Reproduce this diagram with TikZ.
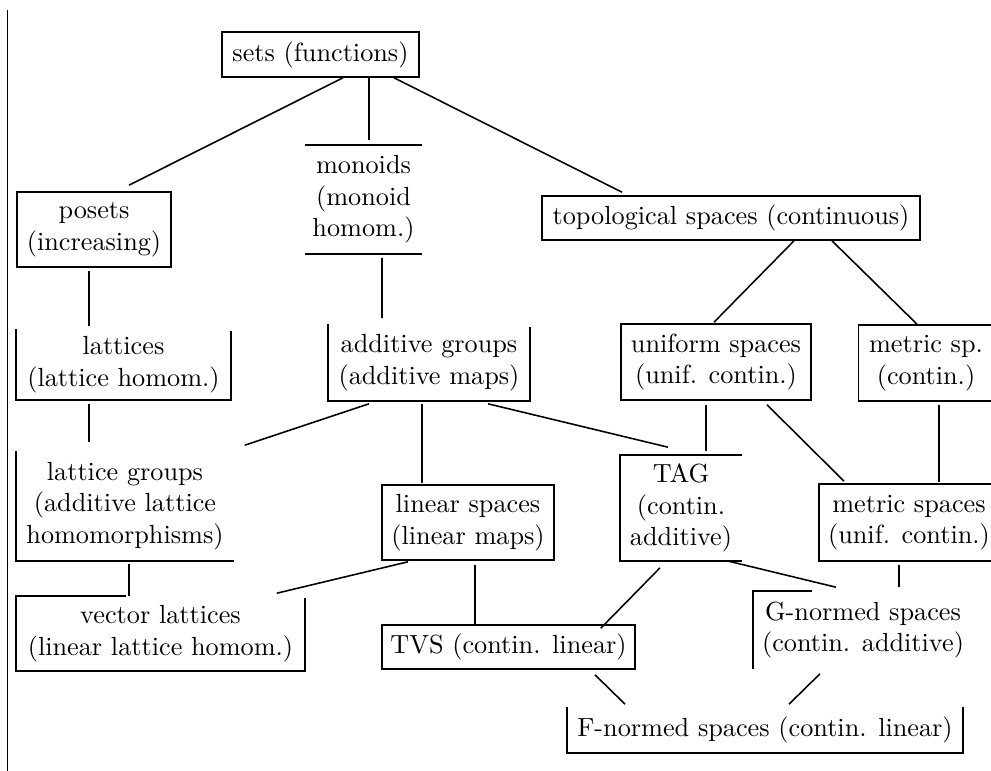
\documentclass[tikz,border=0pt]{standalone}
\usetikzlibrary{calc}

\begin{document}
\begin{tikzpicture}[x=0.0134cm, y=-0.0134cm, line width=0.6pt,
    lbl/.style={inner sep=0pt, align=center},
    box/.style={lbl, draw}]
  \useasboundingbox (0,0) rectangle (991,771);

  % Margin rule
  \draw (7.5,10) -- (7.5,771);

  % Top row
  \node[box, minimum width=2.640cm, minimum height=0.603cm] (sets) at (320.5,54.5) {sets (functions)};
  \node[lbl, minimum width=1.541cm, minimum height=1.434cm] (mon) at (363.5,199.5) {monoids\\(monoid\\homom.)};
  \node[box, minimum width=2.064cm, minimum height=1.005cm] (pos) at (94,229.5) {posets\\(increasing)};
  \node[box, minimum width=5.065cm, minimum height=0.590cm] (topo) at (731,218) {topological spaces (continuous)};

  % Second row
  \node[lbl, minimum width=2.854cm, minimum height=0.925cm] (lat) at (123.5,364.5) {lattices\\(lattice homom.)};
  \node[lbl, minimum width=2.680cm, minimum height=1.005cm] (add) at (429,362.5) {additive groups\\(additive maps)};
  \node[box, minimum width=2.546cm, minimum height=1.018cm] (uni) at (716,362) {uniform spaces\\(unif. contin.)};
  \node[lbl, minimum width=1.782cm, minimum height=0.992cm] (msp) at (926,363) {metric sp.\\(contin.)};

  % Third row
  \node[lbl, minimum width=2.894cm, minimum height=1.447cm] (lgr) at (125,506) {lattice groups\\(additive lattice\\homomorphisms)};
  \node[box, minimum width=2.305cm, minimum height=1.005cm] (lin) at (468,522.5) {linear spaces\\(linear maps)};
  \node[lbl, minimum width=1.608cm, minimum height=1.394cm] (tag) at (681,508) {TAG\\(contin.\\additive)};
  \node[lbl, minimum width=2.385cm, minimum height=1.005cm] (met) at (909,522.5) {metric spaces\\(unif. contin.)};

  % Bottom rows
  \node[lbl, minimum width=3.846cm, minimum height=0.978cm] (vec) at (160.5,633.5) {vector lattices\\(linear lattice homom.)};
  \node[box, minimum width=3.390cm, minimum height=0.590cm] (tvs) at (508.5,647) {TVS (contin. linear)};
  \node[lbl, minimum width=2.921cm, minimum height=1.018cm] (gno) at (863,630) {G-normed spaces\\(contin. additive)};
  \node[lbl, minimum width=5.280cm, minimum height=0.590cm] (fno) at (765,730) {F-normed spaces (contin. linear)};

  % Open frames
  \draw (mon.north west) -- (mon.north east);
  \draw (mon.south west) -- (mon.south east);
  \draw (lat.north west) -- (lat.south west) -- (lat.south east) -- ($(lat.north east)+(0,2)$);
  \draw (add.north west) -- (add.south west) -- (add.south east) -- ($(add.north east)+(0,3)$);
  \draw (msp.north east) -- (msp.north west) -- (msp.south west) -- (msp.south east);
  \draw (lgr.north west) -- (lgr.south west) -- (lgr.south east);
  \draw (tag.north east) -- (tag.north west) -- (tag.south west) -- (tag.south east);
  \draw (met.north east) -- (met.north west) -- (met.south west) -- (met.south east);
  \draw ($(vec.north west)+(110,0)$) -- (vec.north west) -- (vec.south west) -- (vec.south east) -- ($(vec.north east)+(0,2)$);
  \draw (gno.south west) -- (gno.north west) -- ($(gno.north west)+(59,0)$);
  \draw (fno.north west) -- (fno.south west) -- (fno.south east) -- (fno.north east);

  % Links
  \draw ($(sets.south)+(22.5,0)$) -- ($(pos.north)+(35,-6)$);
  \draw ($(sets.south)+(48.5,0)$) -- ($(mon.north)+(5.5,-5)$);
  \draw ($(sets.south)+(73.5,0)$) -- ($(topo.north)+(-109,-3)$);
  \draw ($(pos.south)+(-5,3)$) -- ($(lat.north)+(-34.5,-3)$);
  \draw ($(mon.south)+(18.5,4)$) -- ($(add.north)+(-47,-6)$);
  \draw ($(topo.south)+(63,0)$) -- ($(uni.north)+(-2,-1)$);
  \draw ($(topo.south)+(101,0)$) -- ($(msp.north)+(-9,-1)$);
  \draw ($(lat.south)+(-34.5,4)$) -- ($(lgr.north)+(-36,-9)$);
  \draw ($(add.south)+(-60,3)$) -- ($(lgr.north east)+(11,-6)$);
  \draw ($(add.south)+(-7,3)$) -- ($(lin.north)+(-46,-1)$);
  \draw ($(add.south)+(59,3)$) -- ($(tag.north)+(-13,-8)$);
  \draw ($(uni.south)+(-10,4)$) -- ($(tag.north)+(25,-4)$);
  \draw ($(uni.south)+(51,4)$) -- ($(met.north)+(-65,-3)$);
  \draw ($(msp.south)+(13,4)$) -- ($(met.north)+(30,-2)$);
  \draw ($(lgr.south)+(4,3)$) -- ($(vec.north)+(-31.5,0)$);
  \draw ($(lin.south)+(-60,1)$) -- ($(vec.north east)+(-28,-3)$);
  \draw ($(lin.south)+(7,4)$) -- ($(tvs.north)+(-33.5,0)$);
  \draw ($(tag.south)+(-21,7)$) -- ($(tvs.north east)+(-35,4)$);
  \draw ($(tag.south)+(46,0)$) -- ($(gno.north)+(-27,-4)$);
  \draw ($(met.south)+(-10,4)$) -- ($(gno.north)+(36,-4)$);
  \draw ($(tvs.south)+(86.5,5)$) -- ($(fno.north)+(-140,-3)$);
  \draw ($(gno.south)+(-43,5)$) -- ($(fno.north)+(24,-3)$);
\end{tikzpicture}
\end{document}
